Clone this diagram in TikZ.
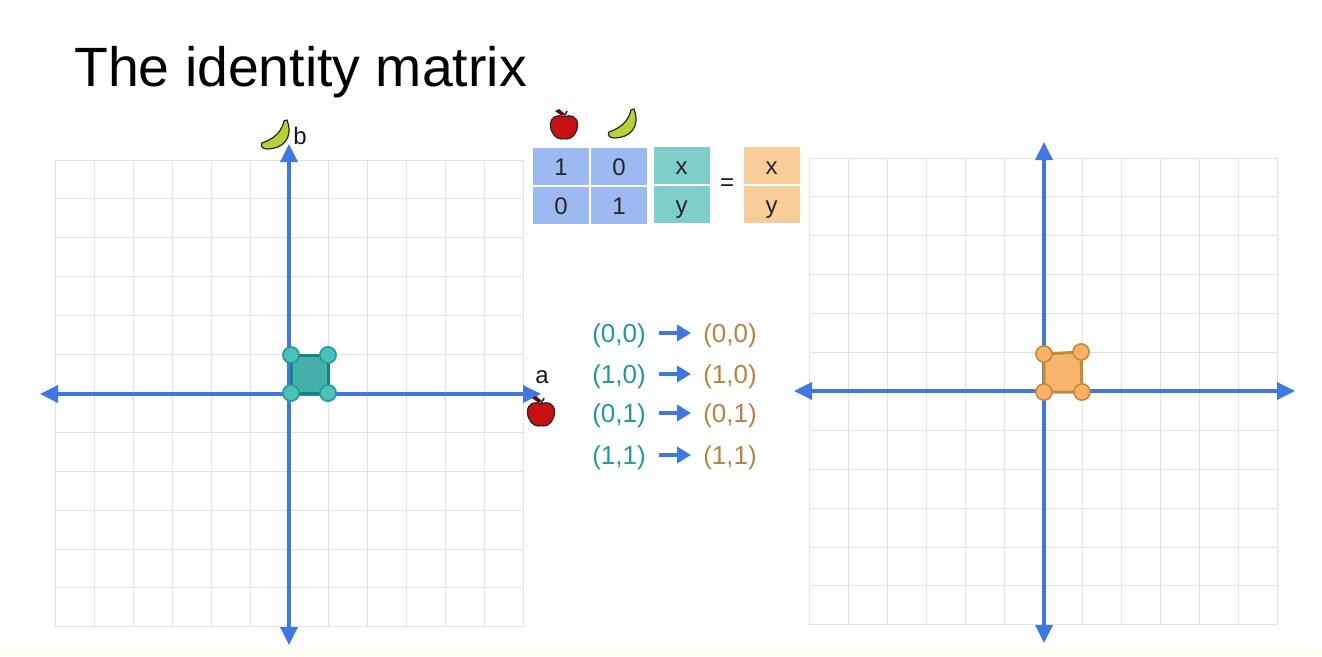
\documentclass[tikz,border=0pt]{standalone}
\usepackage{fontspec}
\setmainfont{Liberation Sans}
\usetikzlibrary{arrows.meta}
\definecolor{axisblue}{HTML}{3F78E0}
\definecolor{gridgray}{HTML}{E2E2E2}
\definecolor{cellblue}{HTML}{9DB9F2}
\definecolor{cellteal}{HTML}{7FCEC9}
\definecolor{cellorange}{HTML}{F9CD9A}
\definecolor{tealtext}{HTML}{23979A}
\definecolor{browntext}{HTML}{B58544}
\definecolor{tealfill}{HTML}{45B0AA}
\definecolor{tealedge}{HTML}{15857F}
\definecolor{tealdotfill}{HTML}{4CC0BB}
\definecolor{tealdotedge}{HTML}{2A9A96}
\definecolor{orangefill}{HTML}{F8B56E}
\definecolor{orangeedge}{HTML}{C48A3E}
\definecolor{orangedotfill}{HTML}{FBB266}
\definecolor{applered}{HTML}{C80F12}
\definecolor{bananagreen}{HTML}{B6D336}
\tikzset{
    apple/.pic={
        \fill[black!50!applered] (1,-11) -- (-5,-16) -- (-9,-14) -- (-2,-9) -- cycle;
        \draw[black!80, line width=1.6pt] (0,-8) -- (3,-14);
        \draw[black!85, fill=applered, line width=1.2pt] (0,-8) .. controls (6,-11) and (13.5,-9) .. (13.5,0) .. controls (13.5,8) and (8,14) .. (3,14) .. controls (1,13.5) and (-1,13.5) .. (-3,14) .. controls (-8,14) and (-13.5,8) .. (-13.5,0) .. controls (-13.5,-9) and (-6,-11) .. (0,-8) -- cycle;
    },
    banana/.pic={
        \draw[black!85, fill=bananagreen, line width=1.2pt] (8,-14) -- (11,-15) .. controls (18,4) and (6,14) .. (-9,14) .. controls (-13,14) and (-16,11) .. (-14,8) .. controls (-6,5) and (5,0) .. (8,-14) -- cycle;
    }
}
\begin{document}
\begin{tikzpicture}[x=1pt, y=-1pt,
        gridline/.style={draw=gridgray, line width=1pt},
        axis/.style={draw=axisblue, line width=3.5pt, {Triangle[length=18pt,width=17pt]}-{Triangle[length=18pt,width=17pt]}},
        mapline/.style={draw=axisblue, line width=4pt, -{Triangle[length=14pt,width=16pt]}},
        matcell/.style={rectangle, minimum width=56pt, minimum height=37pt, inner sep=0pt, text=black!85, font=\fontsize{24}{24}\selectfont, text height=17pt, text depth=0pt},
        bluecell/.style={matcell, fill=cellblue},
        tealcell/.style={matcell, fill=cellteal},
        orangecell/.style={matcell, fill=cellorange},
        label/.style={inner sep=0pt, text=black!90, font=\fontsize{24}{24}\selectfont},
        pairin/.style={inner sep=0pt, text=tealtext, font=\fontsize{26}{26}\selectfont, text height=18pt, text depth=0pt},
        pairout/.style={inner sep=0pt, text=browntext, font=\fontsize{26}{26}\selectfont, text height=18pt, text depth=0pt},
        tealdot/.style={circle, draw=tealdotedge, fill=tealdotfill, line width=1.5pt, minimum size=16pt, inner sep=0pt},
        orangedot/.style={circle, draw=orangeedge, fill=orangedotfill, line width=1.5pt, minimum size=16pt, inner sep=0pt}]

    % page and its faint lower edge
    \useasboundingbox (0,0) rectangle (1322,656);
    \fill[yellow!4] (0,647) rectangle (1322,656);

    \node[inner sep=0pt, anchor=base west, font=\fontsize{55.4}{55.4}\selectfont] (title) at (74,86) {The identity matrix};

    % left grid
    \foreach \i in {0,...,12} {
        \draw[gridline] (55+39*\i,160) -- (55+39*\i,627);
        \draw[gridline] (55,160+38.9*\i) -- (523,160+38.9*\i);
    }
    \coordinate (leftW) at (40,394);
    \coordinate (leftE) at (541,394);
    \coordinate (leftN) at (289,144);
    \coordinate (leftS) at (289,645);
    \draw[axis] (leftW) -- (leftE);
    \draw[axis] (leftS) -- (leftN);

    \node[tealdot] (p00) at (291,393) {};
    \node[tealdot] (p10) at (328,393) {};
    \node[tealdot] (p01) at (291,355) {};
    \node[tealdot] (p11) at (328,355) {};
    \draw[draw=tealedge, fill=tealfill, line width=3pt, line join=round] (p00.center) -- (p10.center) -- (p11.center) -- (p01.center) -- cycle;
    \node[tealdot] at (p00) {};
    \node[tealdot] at (p10) {};
    \node[tealdot] at (p01) {};
    \node[tealdot] at (p11) {};

    % right grid
    \foreach \i in {0,...,12} {
        \draw[gridline] (809+39*\i,158) -- (809+39*\i,625);
        \draw[gridline] (809,158+38.9*\i) -- (1277,158+38.9*\i);
    }
    \coordinate (rightW) at (794,391);
    \coordinate (rightE) at (1295,391);
    \coordinate (rightN) at (1044,142);
    \coordinate (rightS) at (1044,643);
    \draw[axis] (rightW) -- (rightE);
    \draw[axis] (rightS) -- (rightN);

    \node[orangedot] (q00) at (1044,392) {};
    \node[orangedot] (q10) at (1082,392) {};
    \node[orangedot] (q01) at (1044,354) {};
    \node[orangedot] (q11) at (1081,352) {};
    \draw[draw=orangeedge, fill=orangefill, line width=3pt, line join=round] (q00.center) -- (q10.center) -- (q11.center) -- (q01.center) -- cycle;
    \node[orangedot] at (q00) {};
    \node[orangedot] at (q10) {};
    \node[orangedot] at (q01) {};
    \node[orangedot] at (q11) {};

    % axis labels
    \node[label] (labelb) at (300,136) {b};
    \node[label] (labela) at (542,377) {a};
    \pic at (276,135) {banana};
    \pic at (541,412) {apple};

    % matrices
    \node[bluecell] (m11) at (561,166.5) {1};
    \node[bluecell, right of=m11, node distance=58pt] (m12) {0};
    \node[bluecell, below of=m11, node distance=39pt] (m21) {0};
    \node[bluecell, right of=m21, node distance=58pt] (m22) {1};
    \node[tealcell] (vx) at (681.5,165.5) {x};
    \node[tealcell, below of=vx, node distance=39pt] (vy) {y};
    \node[label] (equals) at (727,185) {=};
    \node[orangecell] (wx) at (771.5,165.5) {x};
    \node[orangecell, below of=wx, node distance=39pt] (wy) {y};
    \pic at (564,125) {apple};
    \pic at (623,124) {banana};

    % point list
    \node[pairin] (in1) at (619,333) {(0,0)};
    \node[pairin] (in2) at (619,374) {(1,0)};
    \node[pairin] (in3) at (619,413) {(0,1)};
    \node[pairin] (in4) at (619,455) {(1,1)};
    \node[pairout] (out1) at (730,333) {(0,0)};
    \node[pairout] (out2) at (730,374) {(1,0)};
    \node[pairout] (out3) at (730,413) {(0,1)};
    \node[pairout] (out4) at (730,455) {(1,1)};
    \draw[mapline, shorten <=13pt, shorten >=12pt] (in1) -- (out1);
    \draw[mapline, shorten <=13pt, shorten >=12pt] (in2) -- (out2);
    \draw[mapline, shorten <=13pt, shorten >=12pt] (in3) -- (out3);
    \draw[mapline, shorten <=13pt, shorten >=12pt] (in4) -- (out4);
\end{tikzpicture}
\end{document}
